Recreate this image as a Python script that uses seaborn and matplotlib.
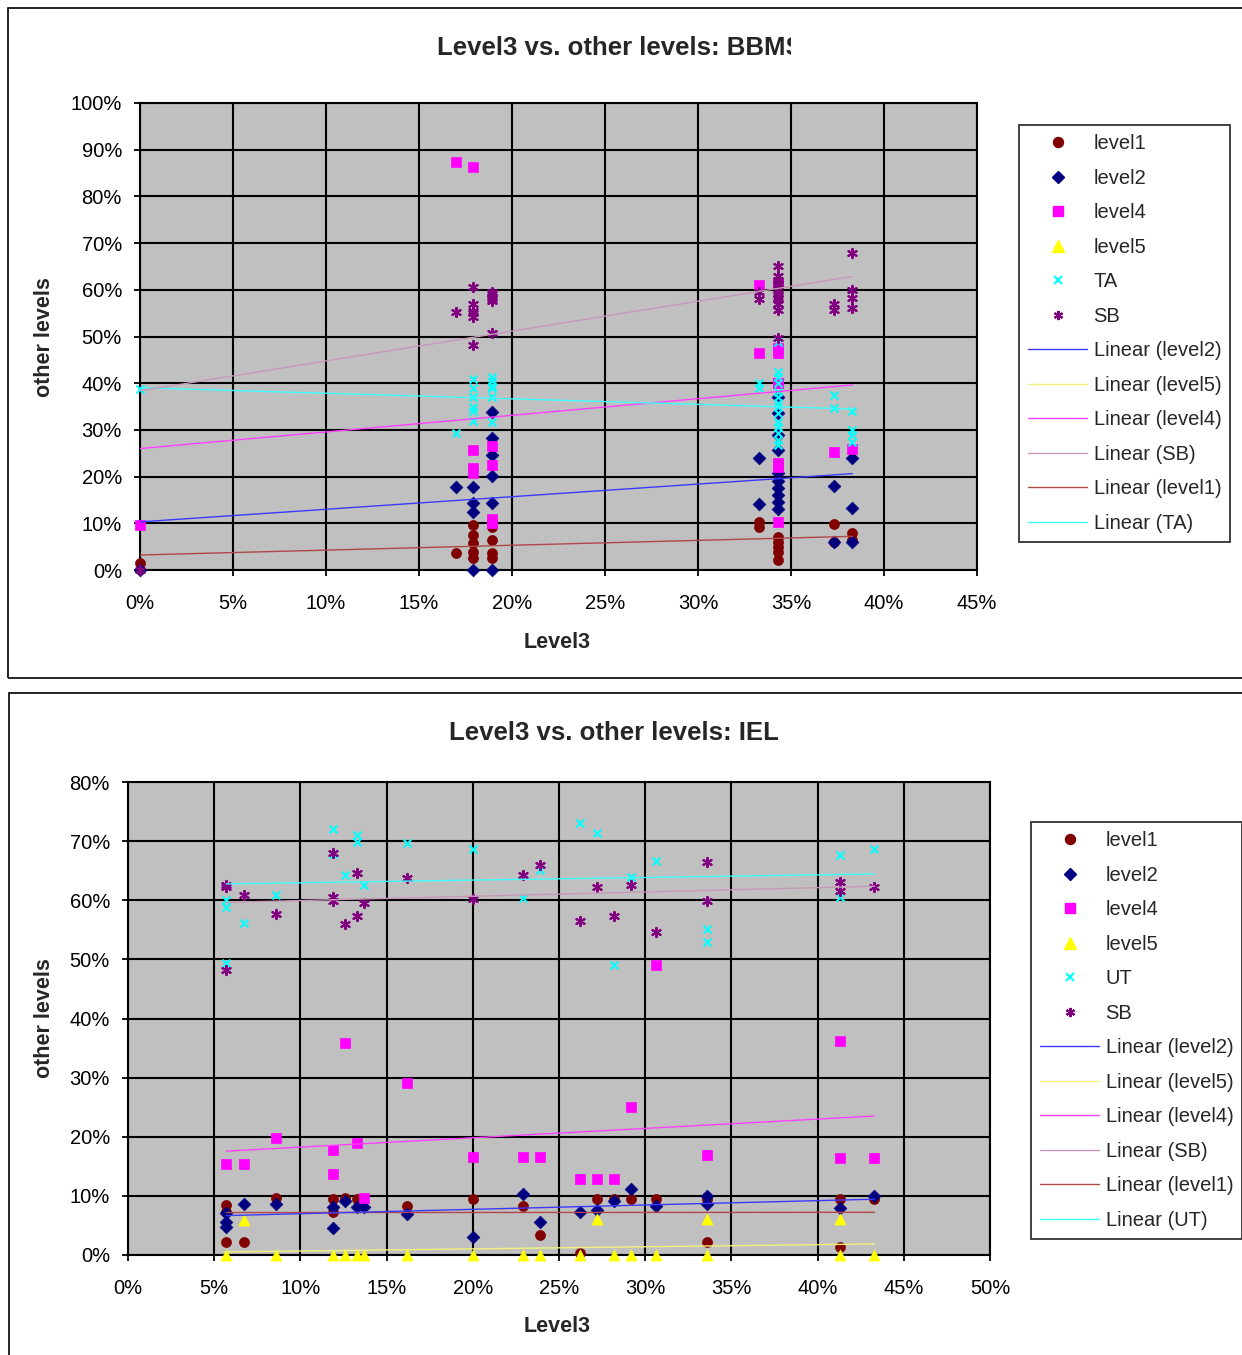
import numpy as np
import pandas as pd
import matplotlib
matplotlib.use("Agg")
import matplotlib.pyplot as plt
import seaborn as sns
from matplotlib.lines import Line2D
from matplotlib.patches import Rectangle
from matplotlib.transforms import Bbox, TransformedBbox
from matplotlib.ticker import PercentFormatter, MultipleLocator

sns.set_style("white")
plt.rcParams['font.family'] = ['Liberation Sans', 'DejaVu Sans']

# ---------------- DATA (values in percent) ----------------
# Chart 1: BBM  (several points overlap exactly in the 34% column)
bbm_level1_x = [0, 17.0, 17.9, 17.9, 17.9, 17.9, 17.9, 18.9, 18.9, 18.9, 18.9,
                33.3, 33.3, 34.3, 34.3, 34.3, 34.3, 34.3, 37.3, 37.3, 38.3, 38.3]
bbm_level1_y = [1.5, 3.6, 9.6, 7.5, 5.8, 3.9, 2.6, 9.2, 6.4, 3.6, 2.6,
                10.3, 9.3, 7.1, 6.0, 4.9, 3.9, 2.1, 9.9, 6.0, 8.0, 6.5]

bbm_level2_x = [0, 17.0, 17.9, 17.9, 17.9, 17.9, 18.9, 18.9, 18.9, 18.9, 18.9, 18.9,
                33.3, 33.3, 34.3, 34.3, 34.3, 34.3, 34.3, 34.3, 34.3, 34.3, 34.3, 34.3,
                37.3, 37.3, 38.3, 38.3, 38.3]
bbm_level2_y = [0, 17.8, 17.8, 14.3, 12.4, 0, 33.8, 28.3, 24.6, 20.1, 14.3, 0,
                24.0, 14.1, 37.0, 33.6, 29.0, 25.7, 20.8, 19.0, 17.5, 16.0, 14.5, 13.0,
                18.0, 6.0, 24.0, 13.3, 6.0]

bbm_level4_x = [0, 17.0, 17.9, 17.9, 17.9, 17.9, 18.9, 18.9, 18.9, 18.9,
                33.3, 33.3, 34.3, 34.3, 34.3, 34.3, 34.3, 34.3, 34.3, 34.3, 34.3, 34.3,
                37.3, 38.3]
bbm_level4_y = [9.7, 87.4, 86.3, 25.7, 21.8, 20.8, 26.5, 22.5, 11.0, 10.0,
                61.0, 46.5, 61.5, 61.5, 47.5, 46.5, 40.0, 40.0, 23.0, 22.0, 22.5, 10.3,
                25.2, 26.0]

bbm_level5_x = []
bbm_level5_y = []

bbm_ta_x = [0, 17.0, 17.9, 17.9, 17.9, 17.9, 17.9, 17.9, 18.9, 18.9, 18.9, 18.9, 18.9, 18.9,
            33.3, 33.3, 34.3, 34.3, 34.3, 34.3, 34.3, 34.3, 34.3, 34.3, 34.3, 34.3, 34.3,
            34.3, 34.3, 34.3, 37.3, 37.3, 38.3, 38.3, 38.3, 38.3]
bbm_ta_y = [38.8, 29.3, 41.0, 39.0, 37.0, 35.0, 34.0, 32.0, 41.3, 40.5, 39.5, 39.0, 37.0, 31.7,
            40.0, 39.0, 48.8, 42.4, 41.3, 40.0, 38.1, 37.0, 35.8, 34.9, 33.6, 31.7, 30.6,
            29.3, 27.8, 26.8, 37.5, 34.6, 34.0, 30.0, 29.0, 27.5]

bbm_sb_x = [0, 17.0, 17.9, 17.9, 17.9, 17.9, 17.9, 17.9, 18.9, 18.9, 18.9, 18.9, 18.9, 18.9,
            33.3, 33.3, 34.3, 34.3, 34.3, 34.3, 34.3, 34.3, 34.3, 34.3, 34.3, 34.3, 34.3,
            34.3, 34.3, 34.3, 37.3, 37.3, 38.3, 38.3, 38.3, 38.3]
bbm_sb_y = [0, 55.2, 60.6, 57.0, 55.5, 55.0, 54.2, 48.2, 59.5, 59.0, 58.5, 58.0, 57.5, 50.7,
            59.5, 58.0, 65.0, 63.0, 62.0, 61.5, 61.0, 60.0, 59.0, 58.5, 58.0, 57.0, 57.0,
            55.7, 49.7, 60.0, 57.0, 55.7, 67.9, 60.0, 58.2, 56.0]

# Chart 2: IEL
iel_level1_x = [5.7, 5.7, 5.7, 6.7, 8.6, 11.9, 11.9, 12.6, 13.3, 16.2, 20.0, 22.9, 23.9,
                26.2, 27.2, 28.2, 29.2, 30.6, 33.6, 33.6, 41.3, 41.3, 43.3]
iel_level1_y = [8.5, 7.3, 2.2, 2.2, 9.6, 9.5, 7.3, 9.6, 9.4, 8.3, 9.5, 8.3, 3.4,
                0.3, 9.5, 9.5, 9.5, 9.5, 9.5, 2.2, 9.5, 1.4, 9.5]

iel_level2_x = [5.7, 5.7, 5.7, 6.7, 8.6, 11.9, 11.9, 12.6, 13.3, 13.7, 16.2, 20.0, 22.9,
                23.9, 26.2, 27.2, 28.2, 29.2, 30.6, 33.6, 33.6, 41.3, 43.3]
iel_level2_y = [7.1, 5.6, 4.7, 8.6, 8.6, 8.1, 4.6, 9.1, 8.1, 8.1, 6.9, 3.1, 10.3,
                5.6, 7.3, 7.6, 9.1, 11.1, 8.3, 10.0, 8.6, 8.0, 10.0]

iel_level4_x = [5.7, 6.7, 8.6, 11.9, 11.9, 12.6, 13.3, 13.7, 16.2, 20.0, 22.9, 23.9,
                26.2, 27.2, 28.2, 29.2, 30.6, 33.6, 41.3, 41.3, 43.3]
iel_level4_y = [15.4, 15.4, 19.8, 17.8, 13.7, 35.9, 19.0, 9.7, 29.1, 16.6, 16.6, 16.6,
                12.8, 12.8, 12.8, 25.0, 49.1, 16.9, 36.2, 16.4, 16.4]

iel_level5_x = [5.7, 6.7, 8.6, 11.9, 12.6, 13.3, 13.7, 16.2, 20.0, 22.9, 23.9, 26.2,
                27.2, 28.2, 29.2, 30.6, 33.6, 33.6, 41.3, 41.3, 43.3]
iel_level5_y = [0, 6.0, 0, 0, 0, 0, 0, 0, 0, 0, 0, 0,
                6.1, 0, 0, 0, 6.1, 0, 6.1, 0, 0]

iel_ut_x = [5.7, 5.7, 5.7, 6.7, 8.6, 11.9, 11.9, 12.6, 13.3, 13.3, 13.7, 16.2, 20.0,
            22.9, 23.9, 26.2, 27.2, 28.2, 29.2, 30.6, 33.6, 33.6, 41.3, 41.3, 43.3]
iel_ut_y = [60.0, 58.9, 49.4, 56.2, 60.9, 72.0, 67.8, 64.3, 71.0, 69.9, 62.6, 69.7, 68.7,
            60.4, 65.1, 73.1, 71.4, 49.1, 64.0, 66.7, 55.2, 53.0, 67.7, 60.6, 68.7]

iel_sb_x = [5.7, 5.7, 5.7, 6.7, 8.6, 11.9, 11.9, 11.9, 12.6, 13.3, 13.3, 13.7, 16.2,
            20.0, 22.9, 23.9, 26.2, 27.2, 28.2, 29.2, 30.6, 33.6, 33.6, 41.3, 41.3, 43.3]
iel_sb_y = [62.6, 62.2, 48.2, 60.9, 57.7, 68.0, 60.6, 59.9, 56.0, 64.6, 57.4, 59.6, 63.8,
            60.2, 64.3, 66.0, 56.5, 62.3, 57.4, 62.6, 54.7, 66.5, 59.9, 63.1, 61.6, 62.3]

titles = ["Level3 vs. other levels: BBMS", "Level3 vs. other levels: IEL"]
x_label = "Level3"
y_label = "other levels"

# ---------------- STYLE ----------------
STY = {
    "level1": dict(marker="o", color="#800000", s=52, trend="#B04848"),
    "level2": dict(marker="D", color="#000080", s=42, trend="#3A3AFF"),
    "level4": dict(marker="s", color="#FF00FF", s=50, trend="#FF40FF"),
    "level5": dict(marker="^", color="#FFFF00", s=64, trend="#F2F27A"),
    "TA":     dict(marker="x", color="#00FFFF", s=32, trend="#40FFFF"),
    "UT":     dict(marker="x", color="#00FFFF", s=32, trend="#40FFFF"),
    "SB":     dict(marker=(6, 2, 0), color="#800080", s=44, trend="#C898B8"),
}

W, H = 1242, 1355
fig = plt.figure(figsize=(W / 100, H / 100), dpi=100)
fig.patch.set_facecolor("white")


def fx(px):
    return px / W


def fy(py):
    return 1 - py / H


def add_ax(l, t, r, b):
    return fig.add_axes([fx(l), fy(b), (r - l) / W, (b - t) / H])


def draw_chart(ax, series, xmax, ymax, leg_order_lines, third_name, leg_xy):
    ax.set_facecolor("#C0C0C0")
    for name, xs, ys in series:
        st = STY[name]
        if len(xs) == 0:
            continue
        if name in ("TA", "UT", "SB"):
            sns.scatterplot(x=xs, y=ys, ax=ax, marker=st["marker"], color=st["color"],
                            s=st["s"], linewidth=1.5, legend=False, zorder=3, clip_on=False)
        else:
            sns.scatterplot(x=xs, y=ys, ax=ax, marker=st["marker"], color=st["color"],
                            edgecolor=st["color"], s=st["s"], linewidth=0.5,
                            legend=False, zorder=3, clip_on=False)
    for name, xs, ys in series:
        if len(xs) == 0:
            continue
        sns.regplot(x=np.array(xs, float), y=np.array(ys, float), ax=ax, scatter=False,
                    ci=None, color=STY[name]["trend"], line_kws=dict(lw=1.0, zorder=4))
    ax.set_xlim(0, xmax)
    ax.set_ylim(0, ymax)
    ax.xaxis.set_major_locator(MultipleLocator(5))
    ax.yaxis.set_major_locator(MultipleLocator(10))
    ax.xaxis.set_major_formatter(PercentFormatter(100, decimals=0))
    ax.yaxis.set_major_formatter(PercentFormatter(100, decimals=0))
    ax.grid(True, color="black", lw=1.5)
    ax.set_axisbelow(True)
    for sp in ax.spines.values():
        sp.set_color("black")
        sp.set_linewidth(1.5)
    ax.tick_params(axis="both", direction="out", length=4, width=1.3, labelsize=14.5,
                   bottom=True, left=True, colors="black")
    ax.tick_params(axis="y", pad=9)
    ax.tick_params(axis="x", pad=13)
    ax.set_xlabel("")
    ax.set_ylabel("")

    # legend
    handles, labels = [], []
    for name in ["level1", "level2", "level4", "level5", third_name, "SB"]:
        st = STY[name]
        if name in ("TA", "UT", "SB"):
            h = Line2D([], [], ls="none", marker=st["marker"], color=st["color"],
                       ms=np.sqrt(st["s"]), mew=1.5)
        else:
            h = Line2D([], [], ls="none", marker=st["marker"], color=st["color"],
                       ms=np.sqrt(st["s"]))
        handles.append(h)
        labels.append(name)
    for name in leg_order_lines:
        handles.append(Line2D([], [], color=STY[name]["trend"], lw=1.0))
        labels.append(f"Linear ({name})")
    leg = fig.legend(handles, labels, loc="upper left",
                     bbox_to_anchor=(fx(leg_xy[0]), fy(leg_xy[1])),
                     frameon=True, fancybox=False, edgecolor="black", facecolor="white",
                     fontsize=14.5, labelspacing=0.77, handlelength=2.95,
                     handletextpad=0.3, borderpad=0.45, borderaxespad=0)
    leg.get_frame().set_linewidth(1.3)
    return leg


# ---------- Chart 1 ----------
ax1 = add_ax(140, 103, 977, 570)
series1 = [("level1", bbm_level1_x, bbm_level1_y), ("level2", bbm_level2_x, bbm_level2_y),
           ("level4", bbm_level4_x, bbm_level4_y), ("level5", bbm_level5_x, bbm_level5_y),
           ("TA", bbm_ta_x, bbm_ta_y), ("SB", bbm_sb_x, bbm_sb_y)]
draw_chart(ax1, series1, 45, 100, ["level2", "level5", "level4", "SB", "level1", "TA"],
           "TA", (1019, 125))

# ---------- Chart 2 ----------
ax2 = add_ax(128, 782, 990, 1255)
series2 = [("level1", iel_level1_x, iel_level1_y), ("level2", iel_level2_x, iel_level2_y),
           ("level4", iel_level4_x, iel_level4_y), ("level5", iel_level5_x, iel_level5_y),
           ("UT", iel_ut_x, iel_ut_y), ("SB", iel_sb_x, iel_sb_y)]
draw_chart(ax2, series2, 50, 80, ["level2", "level5", "level4", "SB", "level1", "UT"],
           "UT", (1031, 822))

# ---------- Titles & labels ----------
t1 = fig.text(fx(437), fy(48), titles[0], ha="left", va="center", fontsize=18.5,
              fontweight="bold")
t1.set_clip_on(True)
t1.set_clip_box(TransformedBbox(Bbox([[0, 0], [fx(791), 1]]), fig.transFigure))
fig.text(fx(613.5), fy(733), titles[1], ha="center", va="center", fontsize=18.5,
         fontweight="bold")

fig.text(fx(557), fy(642), x_label, ha="center", va="center", fontsize=15.5, fontweight="bold")
fig.text(fx(557), fy(1326), x_label, ha="center", va="center", fontsize=15.5, fontweight="bold")
fig.text(fx(45), fy(337), y_label, ha="center", va="center", rotation=90, fontsize=15.5,
         fontweight="bold")
fig.text(fx(45), fy(1018), y_label, ha="center", va="center", rotation=90, fontsize=15.5,
         fontweight="bold")

# ---------- outer chart frames ----------
fig.add_artist(Rectangle((fx(8), fy(678)), 1.2, (678 - 8) / H, transform=fig.transFigure,
                         fill=False, ec="black", lw=1.2))
fig.add_artist(Rectangle((fx(9), fy(1380)), 1.2, (1380 - 693) / H, transform=fig.transFigure,
                         fill=False, ec="black", lw=1.2))

fig.savefig("out.png", dpi=100, facecolor="white")
